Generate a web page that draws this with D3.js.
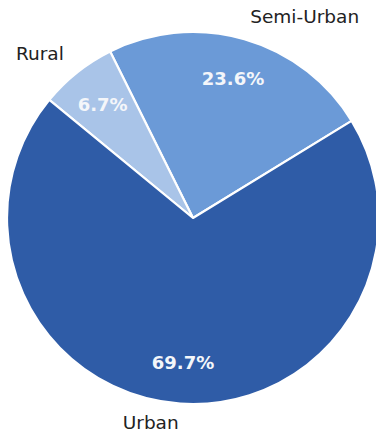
<!DOCTYPE html>
<html>
<head>
<meta charset="utf-8">
<script src="https://cdn.jsdelivr.net/npm/d3@7"></script>
<style>
  html, body { margin: 0; padding: 0; background: #ffffff; }
  svg { display: block; }
</style>
</head>
<body>
<svg id="chart" width="376" height="435"></svg>
<script>
// Share of respondents by area type
const categories = ["Semi-Urban", "Rural", "Urban"];
const shares = [23.6, 6.7, 69.7];
const colors = ["#6b9ad7", "#a9c4e8", "#2f5ca7"];

const width = 376, height = 435;
const cx = 193, cy = 218, radius = 186;
const startDeg = 31.5; // first wedge starts just above the 3 o'clock direction, wedges run counter-clockwise

const svg = d3.select("#chart");
const g = svg.append("g").attr("transform", `translate(${cx},${cy})`);

const start = (90 - startDeg) * Math.PI / 180;
const pie = d3.pie()
  .sort(null)
  .value(d => d.value)
  .startAngle(start)
  .endAngle(start - 2 * Math.PI);

const data = categories.map((c, i) => ({ name: c, value: shares[i], color: colors[i] }));
const arcs = pie(data);

const arc = d3.arc().innerRadius(0).outerRadius(radius);

g.selectAll("path.wedge")
  .data(arcs)
  .join("path")
  .attr("class", "wedge")
  .attr("d", arc)
  .attr("fill", d => d.data.color)
  .attr("stroke", "#ffffff")
  .attr("stroke-width", 2.2)
  .attr("stroke-linejoin", "round");

const mid = d => (d.startAngle + d.endAngle) / 2;

// percentage labels inside the wedges
g.selectAll("text.pct")
  .data(arcs)
  .join("text")
  .attr("class", "pct")
  .attr("x", d => Math.sin(mid(d)) * radius * 0.78)
  .attr("y", d => -Math.cos(mid(d)) * radius * 0.78)
  .attr("text-anchor", "middle")
  .attr("dominant-baseline", "central")
  .attr("font-family", "DejaVu Sans, sans-serif")
  .attr("font-weight", "bold")
  .attr("font-size", 18)
  .attr("fill", "#f4f6fa")
  .text(d => d.data.value.toFixed(1) + "%");

// category labels outside the pie
g.selectAll("text.name")
  .data(arcs)
  .join("text")
  .attr("class", "name")
  .attr("x", d => Math.sin(mid(d)) * radius * 1.115)
  .attr("y", d => -Math.cos(mid(d)) * radius * 1.115 - 2)
  .attr("text-anchor", d => Math.sin(mid(d)) > 0 ? "start" : "end")
  .attr("dominant-baseline", "central")
  .attr("font-family", "DejaVu Sans, sans-serif")
  .attr("font-size", 18.5)
  .attr("fill", "#222222")
  .text(d => d.data.name);
</script>
</body>
</html>
